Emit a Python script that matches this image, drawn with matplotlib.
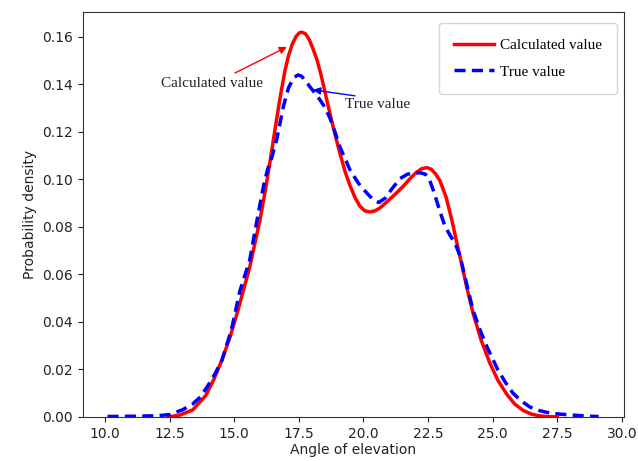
import matplotlib
matplotlib.use("Agg")
import matplotlib.pyplot as plt

calc_x = [12.45, 12.9, 13.4, 13.9, 14.2, 14.53, 14.85, 15.15, 15.6, 16.0, 16.2, 16.38, 16.58, 16.77,
          16.96, 17.1, 17.25, 17.4, 17.52, 17.62, 17.75, 17.9, 18.05, 18.2, 18.35, 18.5, 18.7,
          18.9, 19.09, 19.3, 19.48, 19.67, 19.86, 20.05, 20.25, 20.45, 20.64, 20.9, 21.2, 21.53,
          21.8, 22.05, 22.25, 22.46, 22.62, 22.78, 22.96, 23.2, 23.42, 23.6, 23.81, 24.0, 24.24,
          24.55, 24.89, 25.2, 25.55, 25.85, 26.17, 26.5, 26.8, 27.1, 27.5]
calc_y = [0.0, 0.0008, 0.003, 0.009, 0.0155, 0.024, 0.034, 0.045, 0.063, 0.083, 0.095, 0.107, 0.121, 0.134,
          0.1455, 0.152, 0.157, 0.1603, 0.1617, 0.162, 0.1614, 0.159, 0.155, 0.1505, 0.1445, 0.1375, 0.128,
          0.119, 0.111, 0.103, 0.0975, 0.0925, 0.0888, 0.0868, 0.0863, 0.0868, 0.088, 0.0905, 0.0935, 0.097,
          0.1003, 0.103, 0.1045, 0.105, 0.1043, 0.1025, 0.0995, 0.0925, 0.083, 0.074, 0.064, 0.0545, 0.0438,
          0.0325, 0.0227, 0.0155, 0.0095, 0.0055, 0.0028, 0.0012, 0.0005, 0.0002, 0.0]

true_x = [10.1, 11.0, 12.0, 12.5, 13.0, 13.4, 13.7, 13.95, 14.25, 14.53, 14.9, 15.22, 15.6, 15.92,
          16.15, 16.3, 16.45, 16.65, 16.9, 17.1, 17.3, 17.47, 17.6, 17.75, 17.93, 18.15, 18.32, 18.5,
          18.7, 18.9, 19.09, 19.3, 19.48, 19.8, 20.13, 20.4, 20.6, 20.85, 21.1, 21.41, 21.7, 22.0,
          22.2, 22.4, 22.57, 22.75, 22.96, 23.15, 23.35, 23.55, 23.73, 23.95, 24.24, 24.5, 24.78,
          25.0, 25.2, 25.5, 25.78, 26.1, 26.44, 26.8, 27.2, 27.6, 28.1, 28.6, 29.1]
true_y = [0.0002, 0.0003, 0.0005, 0.001, 0.003, 0.0055, 0.0085, 0.0126, 0.018, 0.024, 0.037, 0.053, 0.066, 0.085,
          0.098, 0.1045, 0.109, 0.117, 0.1305, 0.1385, 0.1428, 0.144, 0.1435, 0.1418, 0.139, 0.136, 0.1335, 0.1305,
          0.126, 0.12, 0.1137, 0.1085, 0.104, 0.0985, 0.0943, 0.0912, 0.0903, 0.0922, 0.096, 0.1003, 0.1022, 0.1027,
          0.1028, 0.1022, 0.0995, 0.094, 0.0865, 0.0805, 0.0765, 0.073, 0.068, 0.058, 0.045, 0.037, 0.0295,
          0.0245, 0.0198, 0.0145, 0.0101, 0.0068, 0.0042, 0.0027, 0.0017, 0.0012, 0.0008, 0.0004, 0.0002]

xticks = [10.0, 12.5, 15.0, 17.5, 20.0, 22.5, 25.0, 27.5, 30.0]
yticks = [0.00, 0.02, 0.04, 0.06, 0.08, 0.10, 0.12, 0.14, 0.16]

fig = plt.figure(figsize=(6.38, 4.61), dpi=100)
ax = fig.add_axes([0.130, 0.0955, 0.848, 0.878])

ax.plot(calc_x, calc_y, color="red", lw=2.5, label="Calculated value")
ax.plot(true_x, true_y, color="blue", lw=2.5, ls=(0, (3.2, 1.8)), label="True value")

ax.set_xlim(9.15, 30.08)
ax.set_ylim(0, 0.1704)
ax.set_xticks(xticks)
ax.set_xticklabels([f"{t:.1f}" for t in xticks])
ax.set_yticks(yticks)
ax.set_yticklabels([f"{t:.2f}" for t in yticks])
ax.tick_params(labelsize=10, colors="#222222")
for s in ax.spines.values():
    s.set_color("#333333")

ax.set_xlabel("Angle of elevation", fontsize=10, color="#222222", labelpad=2)
ax.set_ylabel("Probability density", fontsize=10, color="#222222")

serif = "Liberation Serif"
ax.text(14.14, 0.1406, "Calculated value", ha="center", va="center", fontsize=11,
        family=serif, color="#222222")
ax.annotate("", xy=(17.04, 0.1558), xytext=(15.03, 0.1448),
            arrowprops=dict(arrowstyle="-|>", color="red", lw=1.0, shrinkA=0, shrinkB=0,
                            mutation_scale=11))
ax.text(20.56, 0.1314, "True value", ha="center", va="center", fontsize=11,
        family=serif, color="#222222")
ax.annotate("", xy=(18.05, 0.1377), xytext=(19.67, 0.1352),
            arrowprops=dict(arrowstyle="-|>", color="blue", lw=1.0, shrinkA=0, shrinkB=0,
                            mutation_scale=11))

leg = ax.legend(loc="upper right", prop={"family": serif, "size": 11}, frameon=True,
                fancybox=True, borderpad=1.0, labelspacing=0.85, handlelength=2.6,
                handletextpad=0.4,
                borderaxespad=0, bbox_to_anchor=(0.987, 0.973))
leg.get_frame().set_edgecolor("#cccccc")

fig.savefig("out.png", dpi=100)
